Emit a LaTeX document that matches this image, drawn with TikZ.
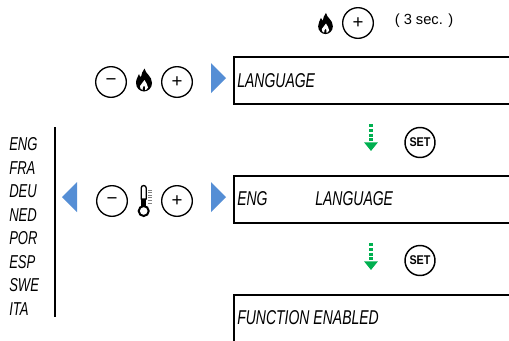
\documentclass[tikz,border=0pt]{standalone}
\usepackage{fontspec}
\setmainfont{Liberation Sans}
\newfontfamily\lcdfont[FakeStretch=0.7]{Liberation Sans}
\newfontfamily\setfont[FakeStretch=0.85]{Liberation Sans}
\usetikzlibrary{arrows.meta, positioning}
\definecolor{triblue}{RGB}{85,142,213}
\definecolor{arrgreen}{RGB}{0,176,80}
\newcommand{\keyplus}{\raisebox{-0.5pt}{+}}
\newcommand{\keyminus}{\raisebox{-1.4pt}{\textminus}}
\tikzset{
  panel/.style={draw, line width=1.5pt, minimum width=275pt, minimum height=35.6pt, anchor=north west, inner sep=0pt},
  lcd/.style={font=\fontsize{15}{16}\lcdfont\itshape, inner sep=0pt, anchor=west},
  lang/.style={font=\fontsize{14}{16}\lcdfont\itshape, inner sep=0pt, anchor=west},
  key/.style={draw, circle, line width=1pt, minimum size=23pt, inner sep=0pt, font=\fontsize{14}{14}\selectfont},
  setkey/.style={draw, circle, line width=1.1pt, minimum size=22.5pt, inner sep=0pt, font=\fontsize{9.5}{10}\setfont\bfseries},
  flame/.pic={\fill (0.5,-11.5) .. controls (1.5,-6) and (8,-4) .. (8,3) .. controls (8,8) and (4,11.5) .. (0,11.5)
     .. controls (-4,11.5) and (-8,8) .. (-8,3) .. controls (-8,-1) and (-6,-3) .. (-5,-6)
     .. controls (-4.5,-4) and (-4,-3.5) .. (-3,-3) .. controls (-2.5,-6) and (-1.5,-9) .. (0.5,-11.5) -- cycle;
     \fill[white] (0.5,0) .. controls (1,3) and (4.5,4) .. (4,7.5) .. controls (3.5,9.5) and (1.5,10) .. (1,10)
     .. controls (2,8) and (0.5,6) .. (0,5.5) .. controls (-0.5,7) and (-2,8) .. (-1.5,10)
     .. controls (-3,9.5) and (-4.5,8) .. (-4,6) .. controls (-3.8,4) and (-0.5,3) .. (0.5,0) -- cycle;},
  tri/.style={fill=triblue, draw=none},
  greenstep/.style={arrgreen, line width=2.4pt, dash pattern=on 2.2pt off 1.4pt, -{Triangle[width=10pt,length=6.5pt]}},
}
\begin{document}
\begin{tikzpicture}[x=0.75pt,y=-0.75pt]
\useasboundingbox (0,0) rectangle (509,340);
% display boxes
\begin{scope}
\clip (0,0) rectangle (509,340);
\node[panel] (boxlang) at (232.5,56) {};
\node[panel] (boxeng) at (232.5,175) {};
\node[panel] (boxfunc) at (232.5,293.5) {};
\end{scope}
\node[lcd] (txtlang) at (237,81) {LANGUAGE};
\node[lcd] (txteng) at (237,199) {ENG};
\node[lcd] (txtlang2) at (315,199) {LANGUAGE};
\node[lcd] (txtfunc) at (237,318) {FUNCTION ENABLED};
% top row
\pic[scale=0.92] at (325.5,23.5) {flame};
\node[key] (plustop) at (358,23) {\keyplus};
\node[font=\fontsize{11}{12}\selectfont] (secs) at (424,21) {( 3 sec. )};
% flame row
\node[key] (minusa) at (111,82) {\keyminus};
\pic at (144,80) {flame};
\node[key] (plusa) at (177,82) {\keyplus};
\fill[tri] (211,63) -- (226,78) -- (211,93) -- cycle;
% temperature row
\node[key] (minusb) at (112,201) {\keyminus};
\draw[line width=1pt, fill=white] (141.2,199) -- (141.2,188) arc (180:360:2.5) -- (146.2,199) -- cycle;
\fill (141.2,199) rectangle (146.2,207);
\draw[line width=1.5pt] (143.7,211) circle (5);
\foreach \i in {190,192.6,...,204} \draw[gray, line width=0.6pt] (148,\i)--(152,\i);
\node[key] (plusb) at (177,201) {\keyplus};
\fill[tri] (211,182) -- (226,197) -- (211,212) -- cycle;
\fill[tri] (77,182) -- (62,197) -- (77,212) -- cycle;
% language list
\coordinate (ruletop) at (54.5,127);
\coordinate (rulebot) at (54.5,317);
\draw[line width=1.5pt] (ruletop)--(rulebot);
\node[lang] (eng) at (9,144) {ENG};
\node[lang] (fra) at (9,168) {FRA};
\node[lang] (deu) at (9,191) {DEU};
\node[lang] (ned) at (9,215) {NED};
\node[lang] (por) at (9,238) {POR};
\node[lang] (esp) at (9,262) {ESP};
\node[lang] (swe) at (9,285) {SWE};
\node[lang] (ita) at (9,309) {ITA};
% steps
\coordinate (stepa) at (371,124);
\coordinate (stepb) at (371,151);
\draw[greenstep] (stepa)--(stepb);
\node[setkey] (seta) at (420,142.5) {SET};
\coordinate (stepc) at (371,243);
\coordinate (stepd) at (371,270);
\draw[greenstep] (stepc)--(stepd);
\node[setkey] (setb) at (420,260.5) {SET};
\end{tikzpicture}
\end{document}
